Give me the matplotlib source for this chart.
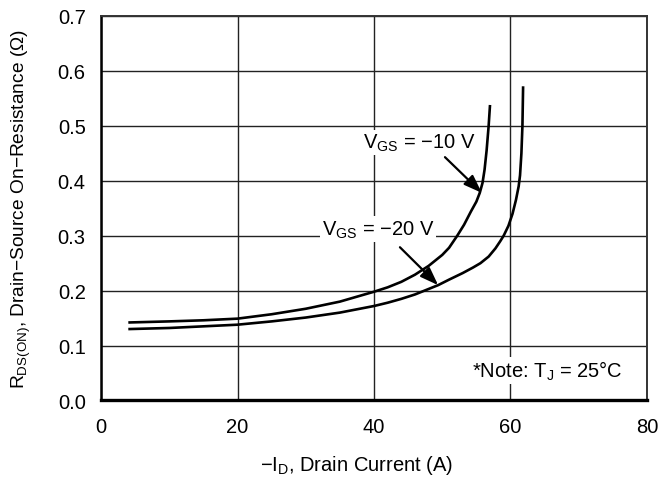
import matplotlib
matplotlib.use("Agg")
import matplotlib.pyplot as plt

plt.rcParams['font.family'] = ['Liberation Sans', 'DejaVu Sans']
plt.rcParams['mathtext.fontset'] = 'custom'
plt.rcParams['mathtext.rm'] = 'Liberation Sans'
plt.rcParams['mathtext.it'] = 'Liberation Sans:italic'
plt.rcParams['mathtext.bf'] = 'Liberation Sans:bold'

# Data
id_vgs10 = [4, 10, 15, 20, 25, 30, 35, 40, 42, 44, 46, 48, 50, 51, 52.2, 53.2,
            54.2, 55.0, 55.5, 55.9, 56.2, 56.5, 56.8, 57.0]
r_vgs10 = [0.142, 0.144, 0.146, 0.149, 0.157, 0.167, 0.180, 0.198, 0.206, 0.216,
           0.229, 0.245, 0.265, 0.278, 0.300, 0.320, 0.344, 0.362, 0.378, 0.396,
           0.420, 0.455, 0.500, 0.538]

id_vgs20 = [4, 10, 15, 20, 25, 30, 35, 40, 42, 44, 46, 48, 49.4, 51, 53, 54.5,
            55.6, 56.8, 57.8, 58.5, 59.0, 59.7, 60.3, 60.8, 61.2, 61.4, 61.6, 61.75, 61.85]
r_vgs20 = [0.130, 0.132, 0.135, 0.138, 0.144, 0.151, 0.160, 0.172, 0.178, 0.185,
           0.193, 0.203, 0.210, 0.220, 0.232, 0.242, 0.250, 0.262, 0.277, 0.290,
           0.300, 0.318, 0.340, 0.365, 0.390, 0.410, 0.450, 0.500, 0.572]

x_ticks = [0, 20, 40, 60, 80]
y_ticks = [0.0, 0.1, 0.2, 0.3, 0.4, 0.5, 0.6, 0.7]
y_tick_labels = ['0.0', '0.1', '0.2', '0.3', '0.4', '0.5', '0.6', '0.7']

FS = 14.5

fig = plt.figure(figsize=(6.62, 4.81), dpi=100)
ax = fig.add_axes([0.1526, 0.1653, 0.8247, 0.7994])

ax.plot(id_vgs10, r_vgs10, color='black', lw=1.9, solid_capstyle='butt',
        solid_joinstyle='round', zorder=3)
ax.plot(id_vgs20, r_vgs20, color='black', lw=1.9, solid_capstyle='butt',
        solid_joinstyle='round', zorder=3)

ax.set_xlim(0, 80)
ax.set_ylim(0, 0.7)
ax.set_xticks(x_ticks)
ax.set_yticks(y_ticks)
ax.set_yticklabels(y_tick_labels)
ax.tick_params(axis='both', length=0, labelsize=FS, colors='black')
ax.tick_params(axis='x', pad=12)
ax.tick_params(axis='y', pad=11)
ax.grid(True, color='#222222', lw=1.0, zorder=0)

ax.spines['left'].set_linewidth(1.8)
ax.spines['bottom'].set_linewidth(2.4)
for side in ['top', 'right']:
    ax.spines[side].set_linewidth(1.4)
    ax.spines[side].set_color('#333333')

ax.set_xlabel(r'$-$I$_{\mathrm{D}}$, Drain Current (A)', fontsize=14.5)
ax.xaxis.set_label_coords(0.468, -0.137)
ax.set_ylabel(r'R$_{\mathrm{DS(ON)}}$, Drain$-$Source On$-$Resistance ($\Omega$)', fontsize=13.8)
ax.yaxis.set_label_coords(-0.124, 0.5)

bbox = dict(boxstyle='square,pad=0.1', fc='white', ec='none')
arrowprops = dict(arrowstyle='-|>,head_length=1.1,head_width=0.4', color='black', lw=1.6,
                  shrinkA=0, shrinkB=0, mutation_scale=10)

ax.text(46.6, 0.470, r'V$_{\mathrm{GS}}$ = $-$10 V', ha='center', va='center',
        fontsize=FS, bbox=bbox, zorder=5)
ax.annotate('', xy=(55.8, 0.378), xytext=(50.4, 0.443), arrowprops=arrowprops, zorder=6)

ax.text(40.6, 0.312, r'V$_{\mathrm{GS}}$ = $-$20 V', ha='center', va='center',
        fontsize=FS, bbox=bbox, zorder=5)
ax.annotate('', xy=(49.4, 0.210), xytext=(43.8, 0.279), arrowprops=arrowprops, zorder=6)

ax.text(76.5, 0.054, r'*Note: T$_{\mathrm{J}}$ = 25°C', ha='right', va='center', fontsize=FS,
        bbox=bbox, zorder=5)

fig.savefig('out.png', dpi=100)
